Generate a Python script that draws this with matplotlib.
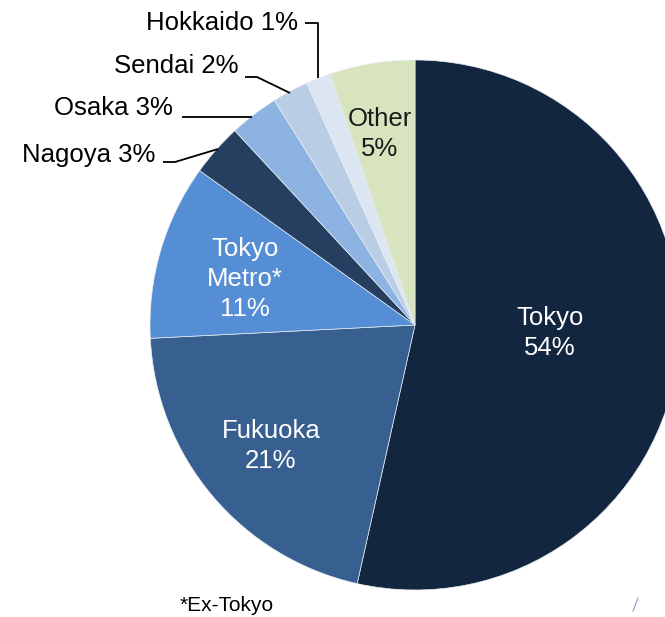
import matplotlib
matplotlib.use("Agg")
import matplotlib.pyplot as plt

# ---- data ----
regions = ["Tokyo", "Fukuoka", "Tokyo Metro*", "Nagoya", "Osaka", "Sendai", "Hokkaido", "Other"]
shares = [53.5, 20.7, 10.7, 3.2, 3.0, 2.2, 1.5, 5.2]
pct_labels = ["54%", "21%", "11%", "3%", "3%", "2%", "1%", "5%"]
colors = ["#12263f", "#375f8f", "#558ed5", "#263f60", "#8db3e2", "#b9cde5", "#dce6f2", "#d7e4bd"]
footnote = "*Ex-Tokyo"

W, H = 665, 617
plt.rcParams['font.family'] = ['Liberation Sans', 'DejaVu Sans']
fig = plt.figure(figsize=(W / 100, H / 100), dpi=100)
ax = fig.add_axes([0, 0, 1, 1])

def Y(y):
    return H - y

cx, cy, R = 415, 325, 265
ax.pie(shares, colors=colors, startangle=90, counterclock=False,
       center=(cx, Y(cy)), radius=R,
       wedgeprops=dict(edgecolor="#e6ecf3", linewidth=0.5))
ax.set_xlim(0, W)
ax.set_ylim(0, H)
ax.set_aspect('equal', adjustable='box')
ax.axis('off')

fs = 18.5
ls = 1.3
# inner labels
ax.text(550, Y(333), f"Tokyo\n{pct_labels[0]}", color="white", fontsize=fs, ha="center", va="center", linespacing=ls)
ax.text(271, Y(446), f"Fukuoka\n{pct_labels[1]}", color="white", fontsize=fs, ha="center", va="center", linespacing=ls)
ax.text(245, Y(279), f"Tokyo\nMetro*\n{pct_labels[2]}", color="white", fontsize=fs, ha="center", va="center", linespacing=ls)
ax.text(380, Y(134), f"Other\n{pct_labels[7]}", color="#1a1a1a", fontsize=fs, ha="center", va="center", linespacing=ls)

# outer labels with leader lines
outer = [
    (3, 155, 162, [(163, 162), (175, 162), (218, 149)]),
    (4, 173, 115, [(182, 117), (252, 117)]),
    (5, 238, 73, [(245, 77), (257, 77), (290, 93)]),
    (6, 298, 30, [(305, 23), (318, 23), (318, 78)]),
]
for idx, xr, yb, pts in outer:
    name = regions[idx]
    ax.text(xr, Y(yb), f"{name} {pct_labels[idx]}", color="black", fontsize=fs,
            ha="right", va="baseline")
    ax.plot([p[0] for p in pts], [Y(p[1]) for p in pts], color="black", lw=1.3,
            solid_capstyle="butt")

ax.text(180, Y(611), footnote, color="black", fontsize=15, ha="left", va="baseline")
ax.plot([638, 633], [Y(598), Y(611)], color="#9a8fe0", lw=0.8)

fig.savefig("out.png", dpi=100)
